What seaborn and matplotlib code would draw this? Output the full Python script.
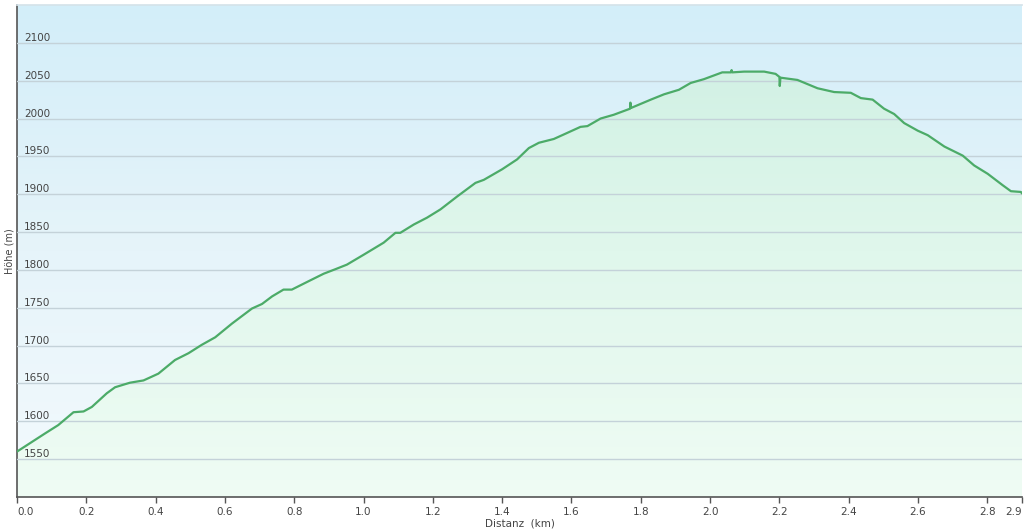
import numpy as np
import matplotlib
matplotlib.use("Agg")
import matplotlib.pyplot as plt
import seaborn as sns
from matplotlib.colors import LinearSegmentedColormap
from matplotlib.patches import Polygon

# elevation profile
distance_km = [0.000, 0.081, 0.119, 0.163, 0.192, 0.216, 0.259, 0.283, 0.326, 0.365,
               0.389, 0.408, 0.456, 0.495, 0.533, 0.572, 0.620, 0.678, 0.707, 0.736,
               0.769, 0.793, 0.841, 0.885, 0.919, 0.952, 1.000, 1.058, 1.092, 1.106,
               1.145, 1.183, 1.222, 1.270, 1.323, 1.347, 1.400, 1.443, 1.477, 1.506,
               1.549, 1.578, 1.626, 1.646, 1.684, 1.722, 1.769, 1.770, 1.772, 1.829,
               1.867, 1.910, 1.944, 1.982, 2.035, 2.060, 2.062, 2.064, 2.098, 2.156,
               2.189, 2.200, 2.201, 2.203, 2.252, 2.310, 2.358, 2.406, 2.435, 2.469,
               2.502, 2.531, 2.560, 2.599, 2.628, 2.676, 2.729, 2.762, 2.801, 2.844,
               2.868, 2.897, 2.900]
elevation_m = [1560, 1584, 1595, 1612, 1613, 1619, 1637, 1645, 1651, 1654,
               1659, 1663, 1681, 1690, 1701, 1711, 1729, 1749, 1755, 1765,
               1774, 1774, 1785, 1795, 1801, 1807, 1820, 1836, 1849, 1849,
               1860, 1869, 1880, 1897, 1915, 1919, 1933, 1946, 1961, 1968,
               1973, 1979, 1989, 1990, 2000, 2005, 2013, 2021, 2014, 2025,
               2032, 2038, 2047, 2052, 2061, 2061, 2064, 2061, 2062, 2062,
               2059, 2055, 2043, 2054, 2051, 2040, 2035, 2034, 2027, 2025,
               2013, 2006, 1994, 1984, 1978, 1963, 1951, 1938, 1927, 1912,
               1904, 1903, 1901]

x_ticks = [0.0, 0.2, 0.4, 0.6, 0.8, 1.0, 1.2, 1.4, 1.6, 1.8, 2.0, 2.2, 2.4, 2.6, 2.8, 2.9]
y_ticks = [1550, 1600, 1650, 1700, 1750, 1800, 1850, 1900, 1950, 2000, 2050, 2100]


def main():
    sns.set_theme(style="white")
    plt.rcParams['font.family'] = ['DejaVu Sans']

    fig = plt.figure(figsize=(10.24, 5.30), dpi=100)
    ax = fig.add_axes([17 / 1024, 1 - 497 / 530, 1005 / 1024, 492 / 530])

    x_min, x_max, y_min, y_max = 0.0, 2.9, 1500, 2150

    # sky gradient behind the plot
    bg_cmap = LinearSegmentedColormap.from_list("bg", ["#f3fafd", "#e6f4fa", "#d3eef9"])
    grad = np.linspace(0, 1, 256).reshape(-1, 1)
    ax.imshow(grad, extent=[x_min, x_max, y_min, y_max], origin="lower",
              cmap=bg_cmap, aspect="auto", zorder=0)

    # green gradient under the profile
    fill_cmap = LinearSegmentedColormap.from_list("fill", ["#effcf4", "#e0f7ec", "#cdefe2"])
    verts = np.column_stack([np.r_[distance_km[0], distance_km, distance_km[-1]],
                             np.r_[y_min, elevation_m, y_min]])
    poly = Polygon(verts, closed=True, facecolor="none", edgecolor="none")
    ax.add_patch(poly)
    im = ax.imshow(grad, extent=[x_min, x_max, y_min, y_max], origin="lower",
                   cmap=fill_cmap, aspect="auto", zorder=1)
    im.set_clip_path(poly)

    sns.lineplot(x=distance_km, y=elevation_m, ax=ax, color="#4cab68", lw=1.6,
                 zorder=4, estimator=None, sort=False)

    ax.set_xlim(x_min, x_max)
    ax.set_ylim(y_min, y_max)

    # grid & axes
    ax.set_axisbelow(False)
    ax.yaxis.grid(True, color="#c4d2d9", lw=1)
    ax.xaxis.grid(False)
    ax.set_xticks(x_ticks)
    ax.set_xticklabels([f"{t:.1f}" for t in x_ticks])
    ax.set_yticks(y_ticks)
    ax.set_yticklabels([str(t) for t in y_ticks])
    ax.tick_params(axis="x", direction="out", length=4, width=1, color="#555555",
                   labelsize=7.5, labelcolor="#444444", pad=3, bottom=True)
    ax.tick_params(axis="y", length=0, pad=-5, labelsize=7.5, labelcolor="#444444")
    plt.setp(ax.get_yticklabels(), ha="left", va="bottom")
    xlabels = ax.get_xticklabels()
    xlabels[0].set_horizontalalignment("left")
    xlabels[-1].set_horizontalalignment("right")

    for side in ["left", "bottom"]:
        ax.spines[side].set_color("#555555")
        ax.spines[side].set_linewidth(1.2)
    ax.spines["top"].set_color("#d5e3ea")
    ax.spines["right"].set_visible(False)

    ax.set_xlabel("Distanz  (km)", fontsize=7.5, color="#444444", labelpad=1)
    ax.set_ylabel("Höhe (m)", fontsize=7, color="#444444", labelpad=2)

    fig.savefig("out.png", dpi=100)


if __name__ == "__main__":
    main()
